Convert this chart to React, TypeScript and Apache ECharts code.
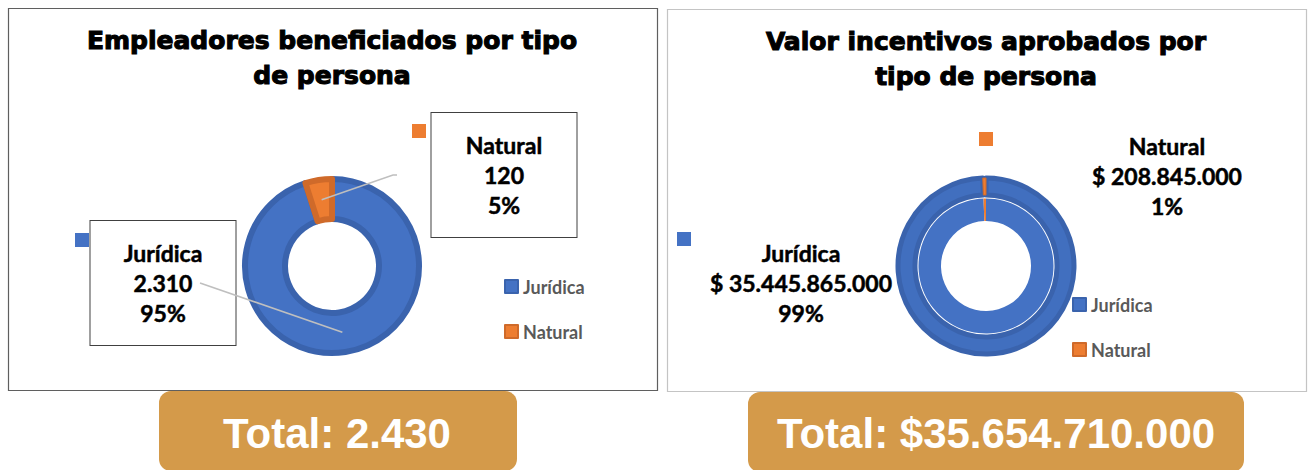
import React, { useEffect, useRef } from "react";
import * as echarts from "echarts";

const categories = ["Jurídica", "Natural"];
const empleadores = [2310, 120];
const incentivos = [35445865000, 208845000];
const colors = ["#4472C4", "#ED7D31"];
const borderColors = ["#3A63AD", "#CF6A2A"];

const titleLeft = "Empleadores beneficiados por tipo\nde persona";
const titleRight = "Valor incentivos aprobados por\ntipo de persona";

const fmt = (n: number) => String(n).replace(/\B(?=(\d{3})+(?!\d))/g, ".");
const sum = (a: number[]) => a.reduce((s, v) => s + v, 0);

const LABEL_FONT = "Lato, 'Noto Sans', sans-serif";
const TITLE_FONT = "'DejaVu Sans', sans-serif";

export default function App() {
  const ref = useRef<HTMLDivElement>(null);
  useEffect(() => {
    if (!ref.current) return;
    const chart = echarts.init(ref.current, undefined, { renderer: "svg" });

    const leftCenter = [332, 266];
    const leftRadius = [47, 87];
    const rightCenter = [986, 266];

    const leftData = categories.map((c, i) => ({
      name: c,
      value: empleadores[i],
      itemStyle: { color: colors[i], borderColor: borderColors[i] },
    }));
    const rightOuter = categories.map((c, i) => ({
      name: c,
      value: incentivos[i],
      itemStyle:
        i === 0
          ? { color: "#416FBF", borderColor: borderColors[i], borderWidth: 5 }
          : { color: colors[i], borderColor: borderColors[i], borderWidth: 1 },
    }));
    const rightInner = categories.map((c, i) => ({
      name: c,
      value: incentivos[i],
      itemStyle: { color: colors[i] },
    }));
    const ghost = (vals: number[]) =>
      categories.map((c, i) => ({ name: c, value: vals[i], itemStyle: { color: "rgba(0,0,0,0)" } }));

    // point at mid radius of each slice, derived from the data
    const total = sum(empleadores);
    const midR = (leftRadius[0] + leftRadius[1]) / 2;
    const sliceMid = (i: number) => {
      const before = sum(empleadores.slice(0, i));
      const frac = (before + empleadores[i] / 2) / total;
      const th = frac * 2 * Math.PI;
      return [leftCenter[0] + midR * Math.sin(th), leftCenter[1] - midR * Math.cos(th)];
    };

    const leftLabelPos = [
      [163, 283],
      [504, 175],
    ];
    const leftLineStart = [
      [[200, 283]],
      [[397, 175], [393, 175]],
    ];
    const leftSquarePos = [
      [82, 240],
      [419, 131],
    ];
    const rightLabelPos = [
      [801, 283],
      [1167, 176],
    ];
    const rightSquarePos = [
      [684, 239],
      [986, 139],
    ];

    const labelText = {
      fontFamily: LABEL_FONT,
      fontWeight: "bold" as const,
      fontSize: 23,
      lineHeight: 30,
      color: "#000",
      textBorderColor: "#000",
      textBorderWidth: 0.5,
    };
    const squareRich = {
      s0: { backgroundColor: colors[0], width: 14, height: 14 },
      s1: { backgroundColor: colors[1], width: 14, height: 14 },
    };
    const legendBase = {
      orient: "vertical" as const,
      itemWidth: 13,
      itemHeight: 13,
      itemGap: 26,
      padding: 0,
      icon: "rect",
      selectedMode: false,
      textStyle: {
        fontFamily: LABEL_FONT,
        fontWeight: "bold" as const,
        fontSize: 18,
        lineHeight: 19,
        color: "#595959",
      },
      data: categories.map((c, i) => ({ name: c, itemStyle: { color: colors[i] } })),
    };
    const titleStyle = {
      align: "center",
      verticalAlign: "middle",
      fontFamily: TITLE_FONT,
      fontWeight: "bold",
      fontSize: 25,
      lineHeight: 35,
      fill: "#000",
      stroke: "#000",
      lineWidth: 1.1,
    };

    chart.setOption({
      animation: false,
      backgroundColor: "#fff",
      graphic: [
        {
          type: "rect",
          shape: { x: 8.5, y: 8.5, width: 649, height: 382 },
          style: { fill: "#fff", stroke: "#5f5f5f", lineWidth: 1.2 },
        },
        {
          type: "rect",
          shape: { x: 667.5, y: 9.5, width: 639, height: 382 },
          style: { fill: "#fff", stroke: "#c4c4c4", lineWidth: 1.2 },
        },
        { type: "text", x: 332, y: 58, style: { ...titleStyle, text: titleLeft } },
        { type: "text", x: 986, y: 59, style: { ...titleStyle, text: titleRight } },
        {
          type: "rect",
          shape: { x: 159, y: 391, width: 358, height: 80, r: 12 },
          style: { fill: "#D49A4A" },
        },
        {
          type: "rect",
          shape: { x: 748, y: 392, width: 496, height: 80, r: 12 },
          style: { fill: "#D49A4A" },
        },
        {
          type: "text",
          x: 337,
          y: 433,
          style: {
            text: "Total: " + fmt(sum(empleadores)),
            align: "center",
            verticalAlign: "middle",
            fontFamily: "'Liberation Sans', Arial, sans-serif",
            fontWeight: "bold",
            fontSize: 42,
            fill: "#fff",
          },
        },
        {
          type: "text",
          x: 996,
          y: 433,
          style: {
            text: "Total: $" + fmt(sum(incentivos)),
            align: "center",
            verticalAlign: "middle",
            fontFamily: "'Liberation Sans', Arial, sans-serif",
            fontWeight: "bold",
            fontSize: 42,
            fill: "#fff",
          },
        },
      ],
      legend: [
        { ...legendBase, left: 504, top: 277 },
        { ...legendBase, left: 1072, top: 295 },
      ],
      series: [
        {
          type: "pie",
          name: "Empleadores",
          center: leftCenter,
          radius: leftRadius,
          startAngle: 90,
          clockwise: true,
          percentPrecision: 0,
          silent: true,
          itemStyle: { borderWidth: 6 },
          data: leftData,
          label: {
            show: true,
            position: "outside",
            ...labelText,
            backgroundColor: "#fff",
            borderColor: "#404040",
            borderWidth: 1,
            width: 97,
            align: "center",
            padding: [18, 24, 16, 24],
            formatter: (p: any) => `${p.name}\n${fmt(p.value)}\n${p.percent}%`,
          },
          labelLine: { show: false },
          labelLayout: (p: any) => ({
            x: leftLabelPos[p.dataIndex][0],
            y: leftLabelPos[p.dataIndex][1],
            align: "center",
            verticalAlign: "middle",
          }),
        },
        {
          type: "pie",
          name: "Incentivos externos",
          center: rightCenter,
          radius: [71, 88],
          startAngle: 90,
          clockwise: true,
          percentPrecision: 0,
          silent: true,
          data: rightOuter,
          label: {
            show: true,
            position: "outside",
            ...labelText,
            align: "center",
            formatter: (p: any) => `${p.name}\n$ ${fmt(p.value)}\n${p.percent}%`,
          },
          labelLine: { show: false },
          labelLayout: (p: any) => ({
            x: rightLabelPos[p.dataIndex][0],
            y: rightLabelPos[p.dataIndex][1],
            align: "center",
            verticalAlign: "middle",
          }),
        },
        {
          type: "pie",
          name: "Incentivos internos",
          center: rightCenter,
          radius: [45, 67.5],
          startAngle: 90,
          clockwise: true,
          silent: true,
          data: rightInner,
          label: { show: false },
          labelLine: { show: false },
        },
        {
          type: "pie",
          name: "linesLeft",
          z: 5,
          center: leftCenter,
          radius: leftRadius,
          startAngle: 90,
          silent: true,
          data: ghost(empleadores),
          label: {
            show: true,
            position: "outside",
            formatter: () => " ",
            fontSize: 2,
          },
          labelLine: { show: true, lineStyle: { color: "#BFBFBF", width: 1.5 } },
          labelLayout: (p: any) => ({
            x: leftLineStart[p.dataIndex][0][0],
            y: leftLineStart[p.dataIndex][0][1],
            labelLinePoints: [...leftLineStart[p.dataIndex], sliceMid(p.dataIndex)],
          }),
        },
        {
          type: "pie",
          name: "keysLeft",
          center: leftCenter,
          radius: leftRadius,
          startAngle: 90,
          silent: true,
          data: ghost(empleadores),
          label: {
            show: true,
            position: "outside",
            formatter: (p: any) => `{s${p.dataIndex}|}`,
            rich: squareRich,
          },
          labelLine: { show: false },
          labelLayout: (p: any) => ({
            x: leftSquarePos[p.dataIndex][0],
            y: leftSquarePos[p.dataIndex][1],
            align: "center",
            verticalAlign: "middle",
          }),
        },
        {
          type: "pie",
          name: "keysRight",
          center: rightCenter,
          radius: [45, 88],
          startAngle: 90,
          silent: true,
          data: ghost(incentivos),
          label: {
            show: true,
            position: "outside",
            formatter: (p: any) => `{s${p.dataIndex}|}`,
            rich: squareRich,
          },
          labelLine: { show: false },
          labelLayout: (p: any) => ({
            x: rightSquarePos[p.dataIndex][0],
            y: rightSquarePos[p.dataIndex][1],
            align: "center",
            verticalAlign: "middle",
          }),
        },
      ],
    });
    return () => chart.dispose();
  }, []);

  return (
    <div
      ref={ref}
      style={{ position: "absolute", left: 0, top: 0, width: 1312, height: 470 }}
    />
  );
}
